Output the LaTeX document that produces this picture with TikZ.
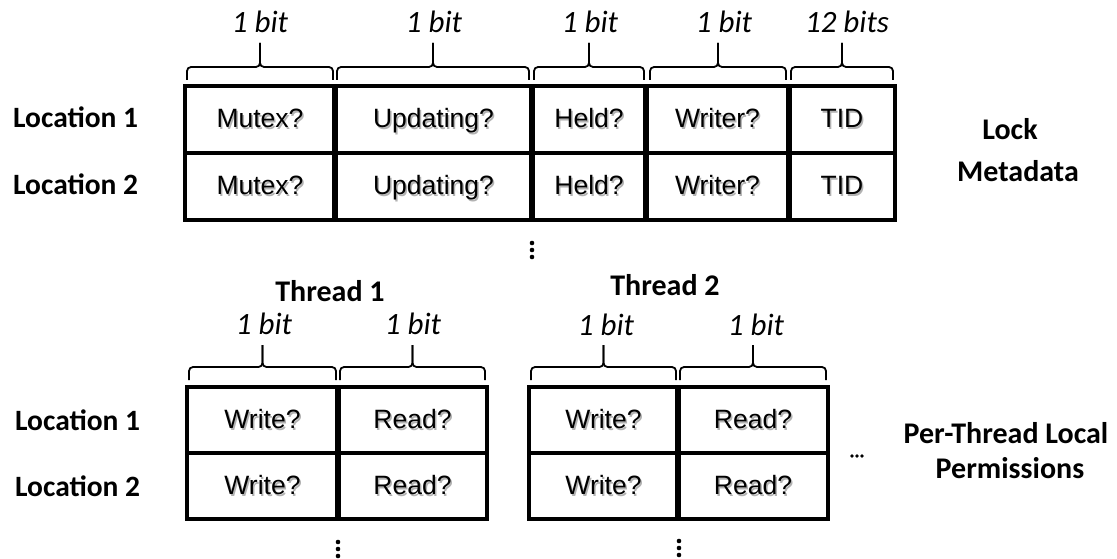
\documentclass[tikz,border=0pt]{standalone}
\usepackage{fontspec}
\setmainfont{Carlito}
\newfontfamily\cellfont{Liberation Sans}
\newcommand\shtxt[1]{\leavevmode\rlap{\raisebox{-1.8pt}[0pt][0pt]{\hspace{1.5pt}\textcolor{black!30}{#1}}}#1}
\newcommand\mkcell[6]{\node[cell, minimum width={(#4-#2)*1pt}, minimum height={(#5-#3)*1pt}] (#1) at ({(#2+#4)/2},{(#3+#5)/2}) {\shtxt{#6}};}
\newcommand\mybrace[5]{%
  \draw[brc] (#1,#4) -- (#1,#3) -- ({(#1+#2)/2},#3) -- ({(#1+#2)/2},#5);
  \draw[brc] (#2,#4) -- (#2,#3) -- ({(#1+#2)/2},#3) -- ({(#1+#2)/2},#5);}
\begin{document}
\begin{tikzpicture}[x=1pt,y=-1pt,
  cell/.style={draw, line width=3.6pt, inner sep=0pt, outer sep=0pt, text height=19pt, text depth=2pt, font=\cellfont\fontsize{26.5}{31}\selectfont},
  divider/.style={line width=6pt},
  bitlbl/.style={font=\itshape\fontsize{31}{36}\selectfont, inner sep=0pt, anchor=base},
  brc/.style={line width=1.8pt, rounded corners=4pt},
  lbl/.style={font=\bfseries\fontsize{29.5}{34}\selectfont, anchor=base west, inner sep=0pt},
  side/.style={font=\bfseries\fontsize{30}{35}\selectfont, inner sep=0pt, anchor=base},
  vdot/.style={fill, circle, inner sep=0pt, minimum size=4.6pt},
  hdot/.style={fill, circle, inner sep=0pt, minimum size=3.6pt}]
\useasboundingbox (0,0) rectangle (1117,559);

% ---------- Lock metadata table ----------
\mkcell{a1}{185}{86}{335}{153}{Mutex?}
\mkcell{b1}{335}{86}{532}{153}{Updating?}
\mkcell{c1}{532}{86}{646}{153}{Held?}
\mkcell{d1}{646}{86}{789}{153}{Writer?}
\mkcell{e1}{789}{86}{895}{153}{TID}
\mkcell{a2}{185}{153}{335}{220}{Mutex?}
\mkcell{b2}{335}{153}{532}{220}{Updating?}
\mkcell{c2}{532}{153}{646}{220}{Held?}
\mkcell{d2}{646}{153}{789}{220}{Writer?}
\mkcell{e2}{789}{153}{895}{220}{TID}
\foreach \n/\m in {a1/a2,b1/b2,c1/c2,d1/d2}
  \draw[divider] (\n.north east) -- (\m.south east);

\mybrace{187}{333}{67}{80}{43}
\mybrace{337}{529}{67}{80}{43}
\mybrace{534}{644}{67}{80}{43}
\mybrace{650}{786}{67}{80}{43}
\mybrace{791}{893}{67}{80}{43}
\node[bitlbl] (la) at (260,33) {1 bit};
\node[bitlbl] (lb) at (434,33) {1 bit};
\node[bitlbl] (lc) at (590,33) {1 bit};
\node[bitlbl] (ld) at (724,33) {1 bit};
\node[bitlbl] (le) at (847,33) {12 bits};

\node[lbl] (loc1) at (13,128) {Location 1};
\node[lbl] (loc2) at (13,195) {Location 2};
\node[side] (lock) at (1010,140) {Lock};
\node[side] (meta) at (1018,182) {Metadata};

\node[vdot] (t1) at (532,243) {};
\node[vdot] (t2) at (532,250) {};
\node[vdot] (t3) at (532,257) {};

% ---------- Thread 1 ----------
\node[side] (th1) at (330,301) {Thread 1};
\mkcell{w11}{187}{387}{338}{453}{Write?}
\mkcell{r11}{338}{387}{487}{453}{Read?}
\mkcell{w12}{187}{453}{338}{519}{Write?}
\mkcell{r12}{338}{453}{487}{519}{Read?}
\draw[divider] (w11.north east) -- (w12.south east);
\mybrace{189}{336}{367}{380}{345}
\mybrace{340}{485}{367}{380}{345}
\node[bitlbl] (lf) at (264,334) {1 bit};
\node[bitlbl] (lg) at (413,334) {1 bit};
\node[vdot] (u1) at (338,542) {};
\node[vdot] (u2) at (338,549) {};
\node[vdot] (u3) at (338,556) {};

% ---------- Thread 2 ----------
\node[side] (th2) at (665,295) {Thread 2};
\mkcell{w21}{529}{387}{678}{453}{Write?}
\mkcell{r21}{678}{387}{828}{453}{Read?}
\mkcell{w22}{529}{453}{678}{519}{Write?}
\mkcell{r22}{678}{453}{828}{519}{Read?}
\draw[divider] (w21.north east) -- (w22.south east);
\mybrace{531}{676}{367}{380}{345}
\mybrace{680}{826}{367}{380}{345}
\node[bitlbl] (lh) at (606,335) {1 bit};
\node[bitlbl] (li) at (756,335) {1 bit};
\node[vdot] (v1) at (679,541) {};
\node[vdot] (v2) at (679,548) {};
\node[vdot] (v3) at (679,555) {};

\node[hdot] (h1) at (852,456) {};
\node[hdot] (h2) at (857,456) {};
\node[hdot] (h3) at (862,456) {};

\node[lbl] (loc3) at (15,430) {Location 1};
\node[lbl] (loc4) at (15,496) {Location 2};
\node[side] (ptl) at (1006,443) {Per-Thread Local};
\node[side] (perm) at (1010,478) {Permissions};
\end{tikzpicture}
\end{document}
